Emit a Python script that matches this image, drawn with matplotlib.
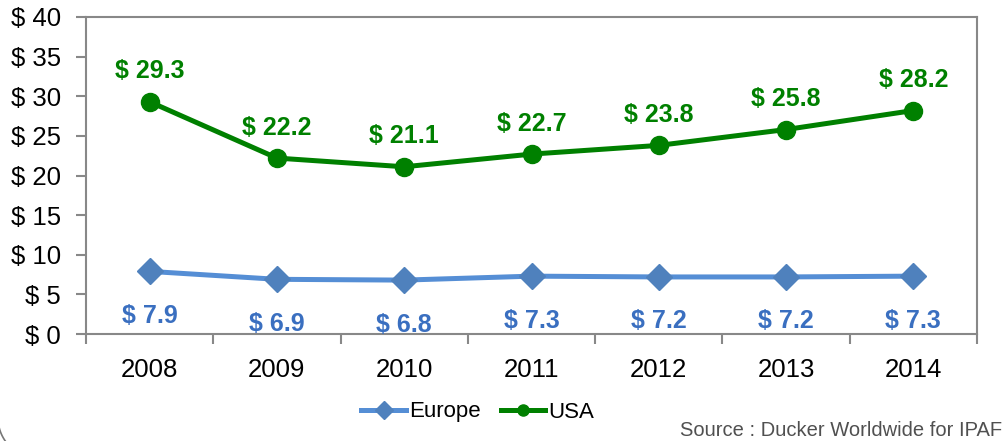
import numpy as np
import matplotlib.pyplot as plt
from matplotlib.lines import Line2D

plt.rcParams['font.family'] = ['Liberation Sans', 'DejaVu Sans']

years = ['2008', '2009', '2010', '2011', '2012', '2013', '2014']
europe = [7.9, 6.9, 6.8, 7.3, 7.2, 7.2, 7.3]
usa = [29.3, 22.2, 21.1, 22.7, 23.8, 25.8, 28.2]

eu_line = '#558ED5'
eu_mark = '#4F81BD'
eu_text = '#3A6FC0'
us_col = '#008000'

W, H = 1002, 441
fig = plt.figure(figsize=(W / 100, H / 100), dpi=100)
ax = fig.add_axes([86/W, 1 - 334/H, 891/W, 317/H])

x = np.arange(len(years))
ax.plot(x, europe, color=eu_line, lw=3.6, marker='D', ms=13,
        mfc=eu_mark, mec=eu_mark, zorder=3)
ax.plot(x, usa, color=us_col, lw=3.6, marker='o', ms=13,
        mfc=us_col, mec=us_col, zorder=3)

for i in x:
    ax.annotate(f'$ {usa[i]}', (i, usa[i]), xytext=(0, 22), textcoords='offset points',
                ha='center', va='center', fontsize=18, fontweight='bold', color=us_col)
    ax.annotate(f'$ {europe[i]}', (i, europe[i]), xytext=(0, -32), textcoords='offset points',
                ha='center', va='center', fontsize=18, fontweight='bold', color=eu_text)

ax.set_xlim(-0.5, len(years) - 0.5)
ax.set_ylim(0, 40)
ax.set_yticks(np.arange(0, 41, 5))
ax.set_yticklabels([f'$ {v}' for v in range(0, 41, 5)])
ax.set_xticks(x)
ax.set_xticklabels(years)
ax.set_xticks(np.arange(-0.5, len(years), 1), minor=True)

ax.tick_params(axis='x', which='major', length=0, pad=17, labelsize=18.5)
ax.tick_params(axis='x', which='minor', length=7, width=1.5, color='#888888', direction='out')
ax.tick_params(axis='y', length=7, width=1.5, color='#888888', labelsize=18.5, pad=11)

for s in ax.spines.values():
    s.set_color('#888888')
    s.set_linewidth(1.5)

handles = [
    Line2D([], [], color=eu_line, lw=3.6, marker='D', ms=9, mfc=eu_mark, mec=eu_mark),
    Line2D([], [], color=us_col, lw=3.6, marker='o', ms=8, mfc=us_col, mec=us_col),
]
fig.legend(handles, ['Europe', 'USA'], loc='center', bbox_to_anchor=(478/W, 1 - 412/H),
           ncol=2, frameon=False, fontsize=16, handlelength=2.0, columnspacing=0.9,
           handletextpad=0.15)

fig.text(1.0, 1 - 430/H, 'Source : Ducker Worldwide for IPAF', ha='right', va='center',
         fontsize=14.5, color='#505050')

# bottom-left rounded corner of the slide frame
t = np.linspace(np.pi, 1.5 * np.pi, 60)
cx, cy, r = 38, 23, 40
fig.add_artist(Line2D((cx + r * np.cos(t)) / W, (cy + r * np.sin(t)) / H,
                      transform=fig.transFigure, color='#777777', lw=1.2))

fig.savefig('out.png', dpi=100)
